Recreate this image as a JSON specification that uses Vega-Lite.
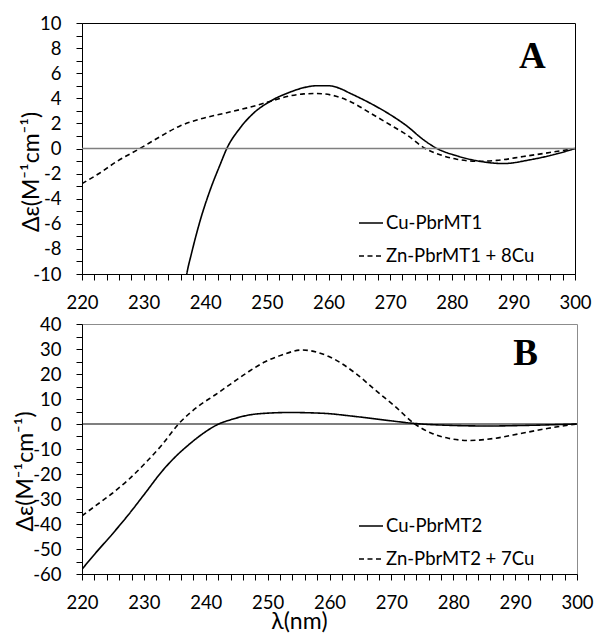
{
  "$schema": "https://vega.github.io/schema/vega-lite/v6.json",
  "padding": {"left": 13, "top": 13, "right": 5, "bottom": 0},
  "background": "white",
  "config": {
    "font": "Lato",
    "axis": {"grid": false, "labelFont": "Lato", "titleFont": "Lato", "labelColor": "#000", "titleColor": "#000", "tickColor": "#000", "domainColor": "#000", "labelFontSize": 18.5, "titleFontSize": 23, "titleFontWeight": "normal", "tickSize": 6, "ticks": true, "domain": true, "labelOverlap": false, "labelFlush": false, "labelBound": false, "zindex": 1},
    "legend": {"labelFont": "Lato", "labelFontSize": 18.5, "labelColor": "#000"}
  },
  "datasets": {
    "a": [
      {"series": "Cu-PbrMT1", "wl": 236, "de": -13.5},
      {"series": "Cu-PbrMT1", "wl": 237, "de": -10},
      {"series": "Cu-PbrMT1", "wl": 237.8, "de": -8.3},
      {"series": "Cu-PbrMT1", "wl": 239.2, "de": -5.7},
      {"series": "Cu-PbrMT1", "wl": 240.8, "de": -3.3},
      {"series": "Cu-PbrMT1", "wl": 242.4, "de": -1.3},
      {"series": "Cu-PbrMT1", "wl": 243.5, "de": 0},
      {"series": "Cu-PbrMT1", "wl": 245.6, "de": 1.6},
      {"series": "Cu-PbrMT1", "wl": 247.8, "de": 2.8},
      {"series": "Cu-PbrMT1", "wl": 250.5, "de": 3.75},
      {"series": "Cu-PbrMT1", "wl": 253.8, "de": 4.5},
      {"series": "Cu-PbrMT1", "wl": 256, "de": 4.85},
      {"series": "Cu-PbrMT1", "wl": 258, "de": 5.0},
      {"series": "Cu-PbrMT1", "wl": 260, "de": 5.0},
      {"series": "Cu-PbrMT1", "wl": 261.5, "de": 4.85},
      {"series": "Cu-PbrMT1", "wl": 263.5, "de": 4.4},
      {"series": "Cu-PbrMT1", "wl": 266.8, "de": 3.6},
      {"series": "Cu-PbrMT1", "wl": 270, "de": 2.7},
      {"series": "Cu-PbrMT1", "wl": 272.7, "de": 1.8},
      {"series": "Cu-PbrMT1", "wl": 275.4, "de": 0.7},
      {"series": "Cu-PbrMT1", "wl": 277.6, "de": 0},
      {"series": "Cu-PbrMT1", "wl": 280.8, "de": -0.58},
      {"series": "Cu-PbrMT1", "wl": 284.1, "de": -0.98},
      {"series": "Cu-PbrMT1", "wl": 288.4, "de": -1.2},
      {"series": "Cu-PbrMT1", "wl": 292.7, "de": -0.9},
      {"series": "Cu-PbrMT1", "wl": 297.1, "de": -0.42},
      {"series": "Cu-PbrMT1", "wl": 300, "de": 0},
      {"series": "Zn-PbrMT1 + 8Cu", "wl": 220, "de": -2.8},
      {"series": "Zn-PbrMT1 + 8Cu", "wl": 222.9, "de": -1.95},
      {"series": "Zn-PbrMT1 + 8Cu", "wl": 225.6, "de": -1.05},
      {"series": "Zn-PbrMT1 + 8Cu", "wl": 229.4, "de": 0},
      {"series": "Zn-PbrMT1 + 8Cu", "wl": 232.7, "de": 0.95},
      {"series": "Zn-PbrMT1 + 8Cu", "wl": 235.9, "de": 1.8},
      {"series": "Zn-PbrMT1 + 8Cu", "wl": 239.2, "de": 2.35},
      {"series": "Zn-PbrMT1 + 8Cu", "wl": 243.5, "de": 2.85},
      {"series": "Zn-PbrMT1 + 8Cu", "wl": 247.3, "de": 3.3},
      {"series": "Zn-PbrMT1 + 8Cu", "wl": 250.5, "de": 3.75},
      {"series": "Zn-PbrMT1 + 8Cu", "wl": 253.8, "de": 4.2},
      {"series": "Zn-PbrMT1 + 8Cu", "wl": 256, "de": 4.35},
      {"series": "Zn-PbrMT1 + 8Cu", "wl": 258.1, "de": 4.38},
      {"series": "Zn-PbrMT1 + 8Cu", "wl": 260.8, "de": 4.22},
      {"series": "Zn-PbrMT1 + 8Cu", "wl": 263.5, "de": 3.75},
      {"series": "Zn-PbrMT1 + 8Cu", "wl": 266.8, "de": 2.82},
      {"series": "Zn-PbrMT1 + 8Cu", "wl": 270, "de": 1.89},
      {"series": "Zn-PbrMT1 + 8Cu", "wl": 272.7, "de": 1.09},
      {"series": "Zn-PbrMT1 + 8Cu", "wl": 275.7, "de": 0},
      {"series": "Zn-PbrMT1 + 8Cu", "wl": 278.1, "de": -0.5},
      {"series": "Zn-PbrMT1 + 8Cu", "wl": 280.8, "de": -0.85},
      {"series": "Zn-PbrMT1 + 8Cu", "wl": 284.1, "de": -1.02},
      {"series": "Zn-PbrMT1 + 8Cu", "wl": 287.3, "de": -0.95},
      {"series": "Zn-PbrMT1 + 8Cu", "wl": 291.6, "de": -0.64},
      {"series": "Zn-PbrMT1 + 8Cu", "wl": 295.9, "de": -0.32},
      {"series": "Zn-PbrMT1 + 8Cu", "wl": 300, "de": 0}
    ],
    "b": [
      {"series": "Cu-PbrMT2", "wl": 220, "de": -58.1},
      {"series": "Cu-PbrMT2", "wl": 222.2, "de": -51.6},
      {"series": "Cu-PbrMT2", "wl": 224.8, "de": -44.3},
      {"series": "Cu-PbrMT2", "wl": 227.5, "de": -36.3},
      {"series": "Cu-PbrMT2", "wl": 230.2, "de": -27.7},
      {"series": "Cu-PbrMT2", "wl": 232.9, "de": -19},
      {"series": "Cu-PbrMT2", "wl": 235.6, "de": -11.9},
      {"series": "Cu-PbrMT2", "wl": 237.2, "de": -8.4},
      {"series": "Cu-PbrMT2", "wl": 238.9, "de": -5.0},
      {"series": "Cu-PbrMT2", "wl": 242.1, "de": 0},
      {"series": "Cu-PbrMT2", "wl": 244.3, "de": 1.9},
      {"series": "Cu-PbrMT2", "wl": 247, "de": 3.6},
      {"series": "Cu-PbrMT2", "wl": 249.7, "de": 4.3},
      {"series": "Cu-PbrMT2", "wl": 253.5, "de": 4.6},
      {"series": "Cu-PbrMT2", "wl": 258.8, "de": 4.3},
      {"series": "Cu-PbrMT2", "wl": 264.2, "de": 3.0},
      {"series": "Cu-PbrMT2", "wl": 269.5, "de": 1.4},
      {"series": "Cu-PbrMT2", "wl": 273.8, "de": 0.2},
      {"series": "Cu-PbrMT2", "wl": 280.3, "de": -0.6},
      {"series": "Cu-PbrMT2", "wl": 285.7, "de": -0.8},
      {"series": "Cu-PbrMT2", "wl": 291, "de": -0.6},
      {"series": "Cu-PbrMT2", "wl": 300, "de": 0},
      {"series": "Zn-PbrMT2 + 7Cu", "wl": 220, "de": -36.7},
      {"series": "Zn-PbrMT2 + 7Cu", "wl": 222.2, "de": -32.7},
      {"series": "Zn-PbrMT2 + 7Cu", "wl": 224.8, "de": -27.9},
      {"series": "Zn-PbrMT2 + 7Cu", "wl": 227.5, "de": -22.3},
      {"series": "Zn-PbrMT2 + 7Cu", "wl": 230.2, "de": -15.7},
      {"series": "Zn-PbrMT2 + 7Cu", "wl": 232.9, "de": -8.4},
      {"series": "Zn-PbrMT2 + 7Cu", "wl": 235.6, "de": 0},
      {"series": "Zn-PbrMT2 + 7Cu", "wl": 238.9, "de": 7.3},
      {"series": "Zn-PbrMT2 + 7Cu", "wl": 241.5, "de": 11.6},
      {"series": "Zn-PbrMT2 + 7Cu", "wl": 244.2, "de": 16.3},
      {"series": "Zn-PbrMT2 + 7Cu", "wl": 246.9, "de": 20.9},
      {"series": "Zn-PbrMT2 + 7Cu", "wl": 249.6, "de": 24.9},
      {"series": "Zn-PbrMT2 + 7Cu", "wl": 252.3, "de": 27.6},
      {"series": "Zn-PbrMT2 + 7Cu", "wl": 255.5, "de": 29.6},
      {"series": "Zn-PbrMT2 + 7Cu", "wl": 259.9, "de": 27},
      {"series": "Zn-PbrMT2 + 7Cu", "wl": 264.2, "de": 20.3},
      {"series": "Zn-PbrMT2 + 7Cu", "wl": 267.4, "de": 13.6},
      {"series": "Zn-PbrMT2 + 7Cu", "wl": 270.6, "de": 7},
      {"series": "Zn-PbrMT2 + 7Cu", "wl": 273.8, "de": 0},
      {"series": "Zn-PbrMT2 + 7Cu", "wl": 276.5, "de": -3.7},
      {"series": "Zn-PbrMT2 + 7Cu", "wl": 279.2, "de": -5.7},
      {"series": "Zn-PbrMT2 + 7Cu", "wl": 282.5, "de": -6.6},
      {"series": "Zn-PbrMT2 + 7Cu", "wl": 286.8, "de": -5.7},
      {"series": "Zn-PbrMT2 + 7Cu", "wl": 291.1, "de": -3.7},
      {"series": "Zn-PbrMT2 + 7Cu", "wl": 295.4, "de": -1.7},
      {"series": "Zn-PbrMT2 + 7Cu", "wl": 300, "de": 0}
    ]
  },
  "bounds": "flush",
  "spacing": 50,
  "resolve": {"scale": {"x": "independent", "y": "independent", "strokeDash": "independent"}, "legend": {"strokeDash": "independent"}, "axis": {"x": "independent", "y": "independent"}},
  "vconcat": [
    {
      "width": 493,
      "height": 251,
      "view": {"stroke": "#000", "strokeWidth": 1},
      "encoding": {
        "x": {"field": "wl", "type": "quantitative", "scale": {"domain": [220, 300], "nice": false, "zero": false},
          "axis": {"title": null, "ticks": true, "domain": true, "tickSize": 6, "tickColor": "#000", "tickWidth": 1, "values": [220,222,224,226,228,230,232,234,236,238,240,242,244,246,248,250,252,254,256,258,260,262,264,266,268,270,272,274,276,278,280,282,284,286,288,290,292,294,296,298,300], "labelExpr": "datum.value % 10 === 0 ? '' + datum.value : ''", "labelPadding": 13, "labelOverlap": false, "labelFlush": false}},
        "y": {"field": "de", "type": "quantitative", "scale": {"domain": [-10, 10], "nice": false, "zero": false},
          "axis": {"title": "Δε(M⁻¹cm⁻¹)", "ticks": true, "domain": true, "tickSize": 6, "tickColor": "#000", "tickWidth": 1, "titleX": -44, "titleY": 148.5, "titleAngle": 270, "titleBaseline": "alphabetic", "titleAlign": "center", "values": [-10,-9,-8,-7,-6,-5,-4,-3,-2,-1,0,1,2,3,4,5,6,7,8,9,10], "labelExpr": "datum.value % 2 === 0 ? '' + datum.value : ''", "labelPadding": 15, "labelOverlap": false, "labelFlush": false}}
      },
      "layer": [
        {
          "data": {"name": "a"},
          "mark": {"type": "line", "color": "#000", "strokeWidth": 1.6, "clip": true, "interpolate": "monotone"},
          "encoding": {
            "strokeDash": {"field": "series", "type": "nominal",
              "scale": {"domain": ["Cu-PbrMT1", "Zn-PbrMT1 + 8Cu"], "range": [[1, 0], [5, 3.5]]},
              "legend": {"title": null, "orient": "none", "legendX": 276, "legendY": 187, "symbolType": "stroke", "symbolSize": 576, "symbolStrokeWidth": 1.5, "symbolStrokeColor": "#000", "rowPadding": 10, "labelOffset": 2}}
          }
        },
        {
          "data": {"values": [{"wl": 220, "de": 0}, {"wl": 300, "de": 0}]},
          "mark": {"type": "line", "color": "#7f7f7f", "strokeWidth": 1.5}
        },
        {
          "data": {"values": [{"wl": 293.1, "de": 6.4, "label": "A"}]},
          "mark": {"type": "text", "font": "Liberation Serif", "fontWeight": "bold", "fontSize": 37, "baseline": "alphabetic", "align": "center", "color": "#000"},
          "encoding": {"text": {"field": "label"}}
        }
      ]
    },
    {
      "width": 495,
      "height": 250,
      "view": {"stroke": "#8c8c8c", "strokeWidth": 1},
      "encoding": {
        "x": {"field": "wl", "type": "quantitative", "scale": {"domain": [220, 300], "nice": false, "zero": false},
          "axis": {"title": "λ(nm)", "ticks": true, "domain": true, "tickSize": 6, "tickColor": "#000", "tickWidth": 1, "titleX": 217, "titleY": 54.5, "titleBaseline": "alphabetic", "titleAlign": "center", "values": [220,222,224,226,228,230,232,234,236,238,240,242,244,246,248,250,252,254,256,258,260,262,264,266,268,270,272,274,276,278,280,282,284,286,288,290,292,294,296,298,300], "labelExpr": "datum.value % 10 === 0 ? '' + datum.value : ''", "labelPadding": 13, "labelOverlap": false, "labelFlush": false}},
        "y": {"field": "de", "type": "quantitative", "scale": {"domain": [-60, 40], "nice": false, "zero": false},
          "axis": {"title": "Δε(M⁻¹cm⁻¹)", "ticks": true, "domain": true, "tickSize": 6, "tickColor": "#000", "tickWidth": 1, "titleX": -50, "titleY": 147, "titleAngle": 270, "titleBaseline": "alphabetic", "titleAlign": "center", "values": [-60,-55,-50,-45,-40,-35,-30,-25,-20,-15,-10,-5,0,5,10,15,20,25,30,35,40], "labelExpr": "datum.value % 10 === 0 ? '' + datum.value : ''", "labelPadding": 15, "labelOverlap": false, "labelFlush": false}}
      },
      "layer": [
        {
          "data": {"name": "b"},
          "mark": {"type": "line", "color": "#000", "strokeWidth": 1.6, "clip": true, "interpolate": "monotone"},
          "encoding": {
            "strokeDash": {"field": "series", "type": "nominal",
              "scale": {"domain": ["Cu-PbrMT2", "Zn-PbrMT2 + 7Cu"], "range": [[1, 0], [5, 3.5]]},
              "legend": {"title": null, "orient": "none", "legendX": 276, "legendY": 189, "symbolType": "stroke", "symbolSize": 576, "symbolStrokeWidth": 1.5, "symbolStrokeColor": "#000", "rowPadding": 10, "labelOffset": 2}}
          }
        },
        {
          "data": {"values": [{"wl": 220, "de": 0}, {"wl": 300, "de": 0}]},
          "mark": {"type": "line", "color": "#000", "strokeWidth": 1.2}
        },
        {
          "data": {"values": [{"wl": 291.7, "de": 23.6, "label": "B"}]},
          "mark": {"type": "text", "font": "Liberation Serif", "fontWeight": "bold", "fontSize": 37, "baseline": "alphabetic", "align": "center", "color": "#000"},
          "encoding": {"text": {"field": "label"}}
        }
      ]
    }
  ]
}
